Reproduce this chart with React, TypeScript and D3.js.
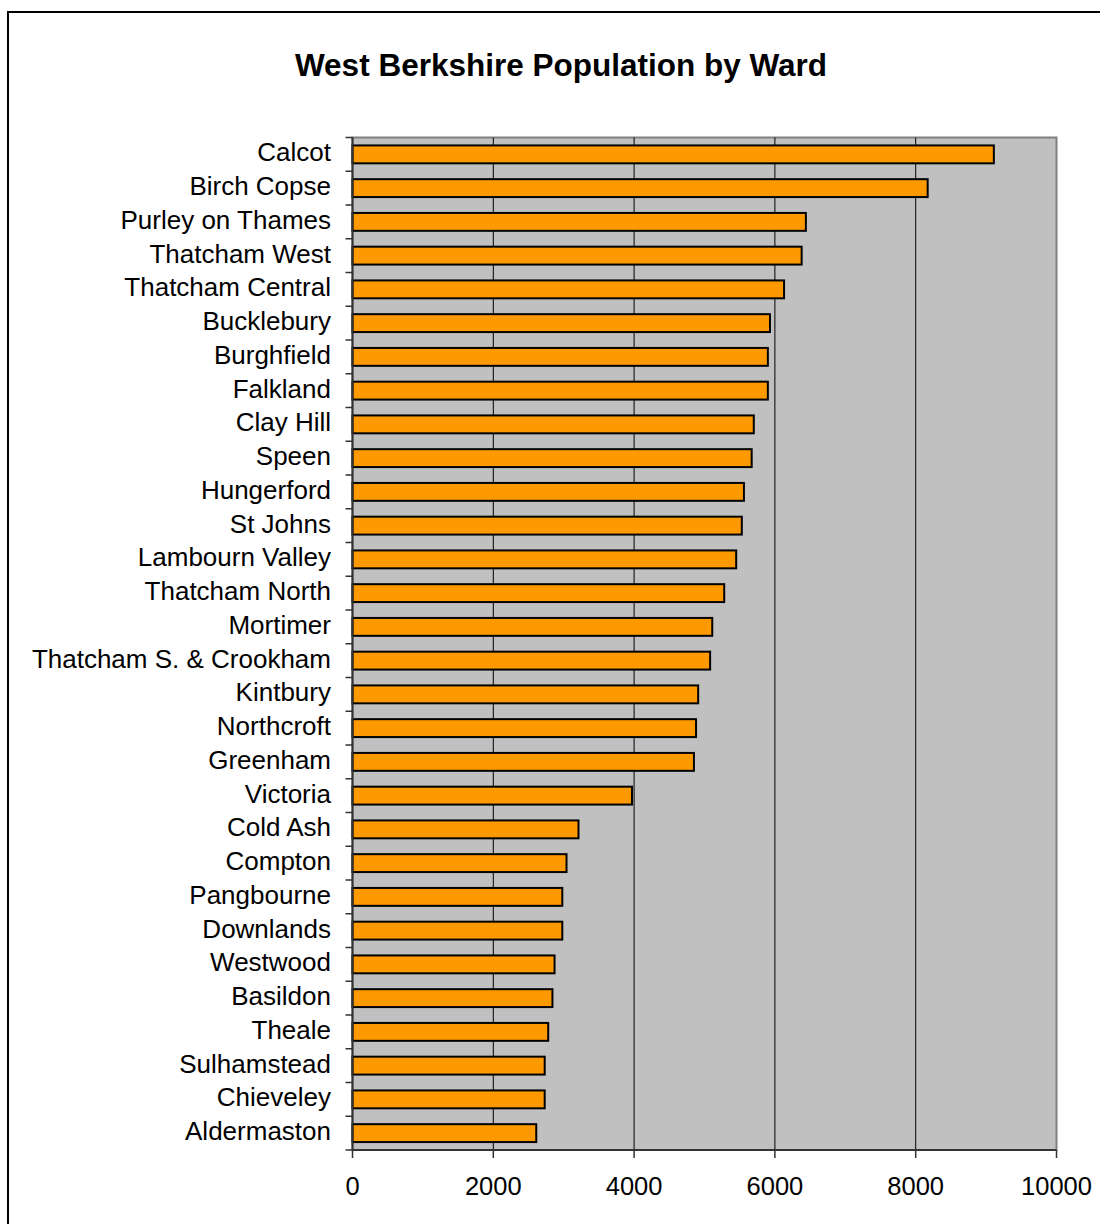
import React from "react";
import * as d3 from "d3";

const wards = [
  "Calcot", "Birch Copse", "Purley on Thames", "Thatcham West", "Thatcham Central",
  "Bucklebury", "Burghfield", "Falkland", "Clay Hill", "Speen", "Hungerford",
  "St Johns", "Lambourn Valley", "Thatcham North", "Mortimer",
  "Thatcham S. & Crookham", "Kintbury", "Northcroft", "Greenham", "Victoria",
  "Cold Ash", "Compton", "Pangbourne", "Downlands", "Westwood", "Basildon",
  "Theale", "Sulhamstead", "Chieveley", "Aldermaston",
];
const population = [
  9110, 8170, 6440, 6380, 6130, 5930, 5900, 5900, 5700, 5670, 5560,
  5530, 5450, 5280, 5110, 5080, 4910, 4880, 4850, 3970,
  3210, 3040, 2980, 2980, 2870, 2840, 2780, 2730, 2730, 2610,
];
const xTicks = [0, 2000, 4000, 6000, 8000, 10000];

const W = 1100;
const H = 1224;
const plot = { left: 352.5, right: 1056.5, top: 137.5, bottom: 1150 };
const FONT = "Arial, 'Liberation Sans', sans-serif";

const App: React.FC = () => {
  const x = d3.scaleLinear().domain([0, 10000]).range([plot.left, plot.right]);
  const y = d3.scaleBand<string>().domain(wards).range([plot.top, plot.bottom]).paddingInner(0.47).paddingOuter(0.235);
  const bounds = d3.range(wards.length + 1).map(i => plot.top + i * (plot.bottom - plot.top) / wards.length);

  return (
    <svg width={W} height={H} style={{ position: "absolute", left: 0, top: 0, background: "#fff" }} fontFamily={FONT}>
      {/* outer frame */}
      <rect x={8} y={12} width={W + 10} height={H + 10} fill="none" stroke="#000" strokeWidth={2} />
      <text x={561} y={76} textAnchor="middle" fontSize={31.5} fontWeight="bold">West Berkshire Population by Ward</text>

      {/* plot area */}
      <rect x={plot.left} y={plot.top} width={plot.right - plot.left} height={plot.bottom - plot.top} fill="#c0c0c0" stroke="#808080" strokeWidth={2} />
      {xTicks.slice(1, -1).map(t => (
        <line key={t} x1={x(t)} x2={x(t)} y1={plot.top} y2={plot.bottom} stroke="#000" strokeWidth={1} />
      ))}

      {/* bars */}
      {wards.map((w, i) => (
        <rect key={w} x={x(0)} y={y(w)!} width={x(population[i]) - x(0)} height={y.bandwidth()}
          fill="#ff9900" stroke="#000" strokeWidth={2} />
      ))}

      {/* axes */}
      <line x1={plot.left} x2={plot.left} y1={plot.top} y2={plot.bottom} stroke="#333" strokeWidth={2} />
      <line x1={plot.left} x2={plot.right} y1={plot.bottom} y2={plot.bottom} stroke="#333" strokeWidth={2} />
      {bounds.map((b, i) => (
        <line key={i} x1={plot.left - 7} x2={plot.left} y1={b} y2={b} stroke="#333" strokeWidth={1.5} />
      ))}
      {xTicks.map(t => (
        <g key={t}>
          <line x1={x(t)} x2={x(t)} y1={plot.bottom} y2={plot.bottom + 8} stroke="#333" strokeWidth={1.5} />
          <text x={x(t)} y={1195} textAnchor="middle" fontSize={25.5}>{t}</text>
        </g>
      ))}
      {wards.map(w => (
        <text key={w} x={331} y={y(w)! + y.bandwidth() / 2 - 2} textAnchor="end" dominantBaseline="central" fontSize={26}>{w}</text>
      ))}
    </svg>
  );
};

export default App;
